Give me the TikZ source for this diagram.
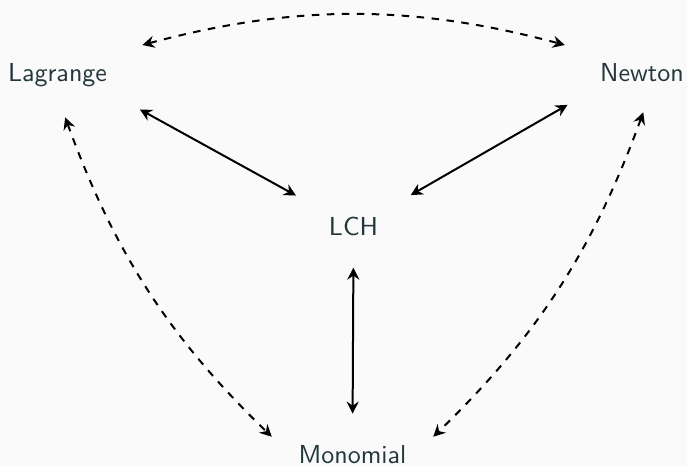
\documentclass[tikz,border=0pt]{standalone}
\usetikzlibrary{arrows.meta}
\definecolor{txt}{HTML}{23373B}
\definecolor{bg}{HTML}{FAFAFA}
\begin{document}
\begin{tikzpicture}[x=0.4pt,y=-0.4pt,
  lbl/.style={font=\sffamily\fontsize{10.4}{12}\selectfont, text=txt, anchor=base},
  solidlink/.style={thick, {Stealth[length=4.8pt,width=4.8pt,inset=1.6pt]}-{Stealth[length=4.8pt,width=4.8pt,inset=1.6pt]}},
  dashlink/.style={solidlink, dashed}]
  % page background
  \fill[bg] (0,0) rectangle (687,466);
  \useasboundingbox (0,0) rectangle (687,466);

  % the four interpolation bases
  \node[lbl] (lag) at (57.5,82)  {Lagrange};
  \node[lbl] (new) at (642,82)   {Newton};
  \node[lbl] (lch) at (353.5,236) {LCH};
  \node[lbl] (mon) at (352.5,463) {Monomial};

  % direct conversions through LCH
  \draw[solidlink, shorten <=11pt, shorten >=11pt] (lag.south east) -- (lch.north west);
  \draw[solidlink, shorten <=11pt, shorten >=11pt] (new.south west) -- (lch.north east);
  \draw[solidlink, shorten <=9pt, shorten >=9pt] (lch.south) -- (mon.north);

  % indirect conversions
  \draw[dashlink, shorten <=11pt, shorten >=11pt] ([yshift=1.2pt]lag.north east) to[bend left=15] ([yshift=1.2pt]new.north west);
  \draw[dashlink, shorten <=9pt, shorten >=10pt] (lag.south) to[bend right=13] (mon.west);
  \draw[dashlink, shorten <=9pt, shorten >=10pt] ([xshift=3.6pt]new.south) to[bend left=13] (mon.east);
\end{tikzpicture}
\end{document}
